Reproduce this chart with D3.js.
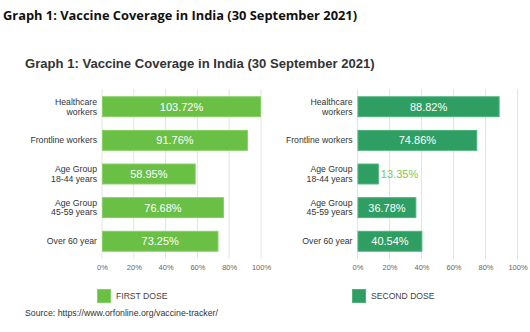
<!DOCTYPE html>
<html>
<head>
<meta charset="utf-8">
<script src="https://cdn.jsdelivr.net/npm/d3@7"></script>
<style>
  html, body { margin: 0; padding: 0; background: #fff; }
  svg { display: block; }
</style>
</head>
<body>
<svg id="chart" width="530" height="332"></svg>
<script>
// Vaccine coverage by population group, share of target population (%)
const categories = [
  ["Healthcare", "workers"],
  ["Frontline workers"],
  ["Age Group", "18-44 years"],
  ["Age Group", "45-59 years"],
  ["Over 60 year"]
];
const firstDose = [103.72, 91.76, 58.95, 76.68, 73.25];
const secondDose = [88.82, 74.86, 13.35, 36.78, 40.54];
const tickValues = [0, 20, 40, 60, 80, 100];
const seriesNames = ["FIRST DOSE", "SECOND DOSE"];
const pageTitle = "Graph 1: Vaccine Coverage in India (30 September 2021)";
const chartTitle = "Graph 1: Vaccine Coverage in India (30 September 2021)";
const sourceNote = "Source: https://www.orfonline.org/vaccine-tracker/";

const svg = d3.select("#chart");
const catKeys = categories.map(c => c.join(" "));

// shrink or grow a text's font size so it spans the given width
function fitWidth(sel, target) {
  const fs = parseFloat(sel.attr("font-size"));
  const w = sel.node().getComputedTextLength();
  sel.attr("font-size", (fs * target / w).toFixed(2));
}

// page heading
const h = svg.append("text")
  .attr("x", 3).attr("y", 20)
  .attr("font-family", "Open Sans, sans-serif")
  .attr("font-weight", 700)
  .attr("font-size", 14)
  .attr("fill", "#111")
  .text(pageTitle);
fitWidth(h, 354);

// chart title
const t = svg.append("text")
  .attr("x", 25).attr("y", 68)
  .attr("font-family", "Liberation Sans, Arial, sans-serif")
  .attr("font-weight", 700)
  .attr("font-size", 13)
  .attr("fill", "#333")
  .text(chartTitle);
fitWidth(t, 350);

const y = d3.scaleBand()
  .domain(catKeys)
  .range([89, 259])
  .paddingInner(0.378)
  .paddingOuter(0.216);

const panels = [
  { values: firstDose, x0: 102, x1: 261, color: "#6abf45", stroke: "#86cf63", legendX: 97, name: seriesNames[0], outsideColor: "#7cc84f" },
  { values: secondDose, x0: 357.5, x1: 517.5, color: "#2f9e62", stroke: "#4fb27c", legendX: 352, name: seriesNames[1], outsideColor: "#7cc84f" }
];

panels.forEach(p => {
  const x = d3.scaleLinear().domain([0, 100]).range([p.x0, p.x1]).clamp(true);
  const g = svg.append("g");

  // vertical gridlines
  g.selectAll("line.grid")
    .data(tickValues)
    .join("line")
    .attr("class", "grid")
    .attr("x1", d => x(d)).attr("x2", d => x(d))
    .attr("y1", 89).attr("y2", 259)
    .attr("stroke", "#e3e3e3")
    .attr("stroke-width", 1);

  // axis tick labels
  const axis = d3.axisBottom(x)
    .tickValues(tickValues)
    .tickFormat(d => d + "%")
    .tickSize(0)
    .tickPadding(0);
  const ax = g.append("g").attr("transform", "translate(0,265)").call(axis);
  ax.select(".domain").remove();
  ax.selectAll("text")
    .attr("font-family", "Liberation Sans, Arial, sans-serif")
    .attr("font-size", 7.5)
    .attr("fill", "#666");

  // category labels
  const lab = g.selectAll("text.cat")
    .data(categories)
    .join("text")
    .attr("class", "cat")
    .attr("text-anchor", "end")
    .attr("font-family", "Liberation Sans, Arial, sans-serif")
    .attr("font-size", 8.7)
    .attr("fill", "#333");
  lab.each(function(lines, i) {
    const cy = y(catKeys[i]) + y.bandwidth() / 2;
    const lh = 9.6;
    const top = cy - (lines.length - 1) * lh / 2;
    d3.select(this).selectAll("tspan")
      .data(lines)
      .join("tspan")
      .attr("x", p.x0 - 5)
      .attr("y", (d, j) => top + j * lh)
      .attr("dy", "0.35em")
      .text(d => d);
  });

  // bars
  g.selectAll("rect.bar")
    .data(p.values)
    .join("rect")
    .attr("class", "bar")
    .attr("x", x(0) + 0.5)
    .attr("y", (d, i) => y(catKeys[i]) + 0.5)
    .attr("width", d => x(d) - x(0) - 1)
    .attr("height", y.bandwidth() - 1)
    .attr("fill", p.color)
    .attr("stroke", p.stroke)
    .attr("stroke-width", 1);

  // value labels: centred inside the bar, or just past its end when it does not fit
  g.selectAll("text.val")
    .data(p.values)
    .join("text")
    .attr("class", "val")
    .attr("font-family", "Liberation Sans, Arial, sans-serif")
    .attr("font-size", 11)
    .attr("y", (d, i) => y(catKeys[i]) + y.bandwidth() / 2)
    .attr("dy", "0.36em")
    .text(d => d.toFixed(2) + "%")
    .each(function(d) {
      const s = d3.select(this);
      const w = this.getComputedTextLength();
      const bw = x(d) - x(0);
      if (w + 6 < bw) {
        s.attr("x", (x(0) + x(d)) / 2).attr("text-anchor", "middle").attr("fill", "#fff");
      } else {
        s.attr("x", x(d) + 2).attr("text-anchor", "start").attr("fill", p.outsideColor);
      }
    });

  // legend
  svg.append("rect")
    .attr("x", p.legendX + 0.5).attr("y", 289.5)
    .attr("width", 13).attr("height", 13)
    .attr("fill", p.color)
    .attr("stroke", p.stroke);
  svg.append("text")
    .attr("x", p.legendX + 19).attr("y", 296)
    .attr("dy", "0.35em")
    .attr("font-family", "Liberation Sans, Arial, sans-serif")
    .attr("font-size", 8.6)
    .attr("fill", "#444")
    .text(p.name);
});

// source note
const s = svg.append("text")
  .attr("x", 25).attr("y", 313)
  .attr("dy", "0.35em")
  .attr("font-family", "Liberation Sans, Arial, sans-serif")
  .attr("font-size", 8)
  .attr("fill", "#333")
  .text(sourceNote);
fitWidth(s, 193);
</script>
</body>
</html>
